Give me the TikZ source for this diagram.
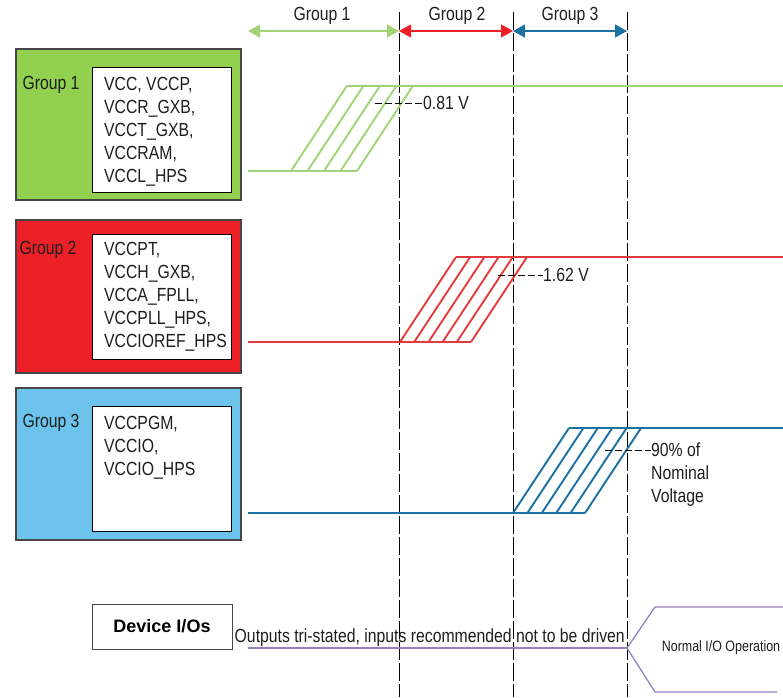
\documentclass[tikz,border=0pt]{standalone}
\usepackage{fontspec}
\setmainfont{Liberation Sans}[FakeStretch=0.83]
\newfontfamily\widefont{Liberation Sans}
\usetikzlibrary{arrows.meta}
\definecolor{gonefill}{RGB}{146,208,80}
\definecolor{goneline}{RGB}{160,212,118}
\definecolor{gtwofill}{RGB}{236,32,38}
\definecolor{gtwoline}{RGB}{226,60,62}
\definecolor{gthreefill}{RGB}{108,196,236}
\definecolor{gthreeline}{RGB}{28,112,162}
\definecolor{ioline}{RGB}{150,128,190}
\definecolor{boxgray}{RGB}{70,70,70}
\definecolor{txtdark}{RGB}{30,30,30}

\tikzset{
  grpbox/.style={draw=boxgray, line width=1.2pt},
  railbox/.style={draw=black, fill=white, line width=0.8pt},
  railtext/.style={anchor=north west, align=left, inner sep=0pt, text=txtdark,
                   font=\fontsize{19}{23}\selectfont},
  lbl/.style={inner sep=0pt, text=txtdark, font=\fontsize{19}{23}\selectfont},
  wave/.style={line width=1.9pt},
  gridline/.style={black, line width=0.8pt, dash pattern=on 18pt off 3pt},
  leader/.style={black, line width=0.8pt, dash pattern=on 7pt off 3pt},
  span/.style={line width=1.3pt, {Triangle[length=12pt,width=13pt]}-{Triangle[length=12pt,width=13pt]}},
}

\begin{document}
\begin{tikzpicture}[x=1pt, y=-1pt]
    \useasboundingbox (0,0) rectangle (783,697);

    % time marks
    \foreach \name/\xx in {tone/399, ttwo/513, tthree/627} {
        \coordinate (\name top) at (\xx,12);
        \coordinate (\name bot) at (\xx,697);
        \draw[gridline] (\name top) -- (\name bot);
    }
    \coordinate (tzero) at (248,31);
    \coordinate (aone) at (399,31);
    \coordinate (atwo) at (513,31);
    \coordinate (athree) at (627,31);
    \draw[span, goneline] (tzero) -- (aone);
    \draw[span, gtwofill] (aone) -- (atwo);
    \draw[span, gthreeline] (atwo) -- (athree);
    \node[lbl] (hone) at (322,16) {Group 1};
    \node[lbl] (htwo) at (457,16) {Group 2};
    \node[lbl] (hthree) at (570,16) {Group 3};

    % group boxes
    \draw[grpbox, fill=gonefill] (16,49) rectangle (241,200);
    \draw[railbox] (92,67) rectangle (231,192);
    \node[lbl] (gone) at (51,85) {Group 1};
    \node[railtext] (rone) at (104,77) {VCC, VCCP,\\VCCR\_GXB,\\VCCT\_GXB,\\VCCRAM,\\VCCL\_HPS};

    \draw[grpbox, fill=gtwofill] (16,220) rectangle (241,373);
    \draw[railbox] (92,234) rectangle (231,359);
    \node[lbl] (gtwo) at (48,250) {Group 2};
    \node[railtext] (rtwo) at (104,242) {VCCPT,\\VCCH\_GXB,\\VCCA\_FPLL,\\VCCPLL\_HPS,\\VCCIOREF\_HPS};

    \draw[grpbox, fill=gthreefill] (16,388) rectangle (241,540);
    \draw[railbox] (92,406) rectangle (231,531);
    \node[lbl] (gthree) at (51,423) {Group 3};
    \node[railtext] (rthree) at (104,416) {VCCPGM,\\VCCIO,\\VCCIO\_HPS};

    % ramps
    \draw[wave, goneline] (248,171) -- (357,171);
    \draw[wave, goneline] (347,85.7) -- (783,85.7);
    \foreach \i in {0,...,4}
        \draw[wave, goneline] (291+16.5*\i,171) -- (347+16.5*\i,85.7);

    \draw[wave, gtwoline] (248,342) -- (471,342);
    \draw[wave, gtwoline] (456,257) -- (783,257);
    \foreach \i in {0,...,5}
        \draw[wave, gtwoline] (400+14.2*\i,342) -- (456+14.2*\i,257);

    \draw[wave, gthreeline] (248,513) -- (585,513);
    \draw[wave, gthreeline] (569,428) -- (783,428);
    \foreach \i in {0,...,5}
        \draw[wave, gthreeline] (513+14.4*\i,513) -- (569+14.4*\i,428);

    % thresholds
    \coordinate (mone) at (375,103);
    \node[lbl, anchor=west] (vone) at (423,103) {0.81 V};
    \draw[leader] (mone) -- (vone.west);
    \coordinate (mtwo) at (498,275);
    \node[lbl, anchor=west] (vtwo) at (543,275) {1.62 V};
    \draw[leader] (mtwo) -- (vtwo.west);
    \coordinate (mthree) at (605,450);
    \node[lbl, anchor=north west, align=left] (vthree) at (651,443) {90\% of\\Nominal\\Voltage};
    \draw[leader] (mthree) -- (651,450);

    % device I/Os
    \node[draw=boxgray, line width=0.9pt, minimum width=140pt, minimum height=45pt,
          font=\widefont\bfseries\fontsize{18}{22}\selectfont] (dev) at (162,626.5) {Device I/Os};
    \node[lbl, anchor=base east] (tri) at (625,642) {Outputs tri-stated, inputs recommended not to be driven};
    \coordinate (iostart) at (248,648);
    \coordinate (iosplit) at (627,648);
    \draw[ioline, line width=1.3pt] (iostart) -- (iosplit);
    \draw[ioline, line width=1.3pt] (iosplit) -- (655,607) -- (783,607);
    \draw[ioline, line width=1.3pt] (iosplit) -- (655,692) -- (777,692);
    \node[lbl, font=\fontsize{15}{17}\selectfont] (norm) at (721,648) {Normal I/O Operation};
\end{tikzpicture}
\end{document}
